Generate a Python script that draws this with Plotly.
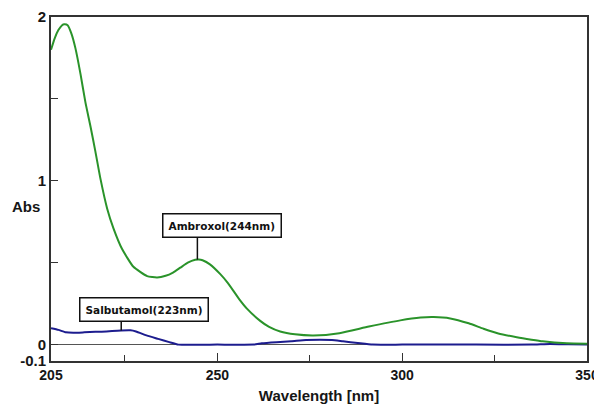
import numpy as np
import plotly.graph_objects as go

# Ambroxol (green) spectrum
amb_wl = [205, 206, 207, 208, 208.6, 209.5, 210.5, 211.6, 213, 214.3, 215.7, 217, 218.4,
          220.2, 221.9, 224.2, 227.3, 231, 233.7, 236, 238, 240, 242, 244, 245, 246, 248,
          250.8, 252.7, 254.3, 256, 258, 261.6, 264, 267, 271, 276, 283, 291, 299.5, 305,
          308.5, 313, 318, 322, 326, 331, 335, 338, 344.5, 350]
amb_abs = [1.80, 1.87, 1.92, 1.95, 1.955, 1.95, 1.90, 1.81, 1.65, 1.48, 1.33, 1.18, 1.01,
           0.83, 0.71, 0.585, 0.475, 0.418, 0.41, 0.42, 0.44, 0.47, 0.50, 0.518, 0.52, 0.515, 0.49,
           0.43, 0.38, 0.33, 0.275, 0.22, 0.145, 0.108, 0.08, 0.063, 0.056, 0.07, 0.11, 0.148, 0.165,
           0.168, 0.16, 0.13, 0.097, 0.068, 0.045, 0.03, 0.02, 0.008, 0.005]

# Salbutamol (blue) spectrum
sal_wl = [205, 207, 209, 211, 214, 217, 220, 223, 226.5, 228, 231, 234, 237, 239.5, 250,
          260, 262, 266, 270, 274, 281, 284, 288, 292, 300, 320, 335, 340, 345, 350]
sal_abs = [0.10, 0.09, 0.075, 0.072, 0.075, 0.078, 0.08, 0.085, 0.087, 0.08, 0.055, 0.035,
           0.015, 0.0, 0.0, 0.0, 0.008, 0.015, 0.02, 0.028, 0.028, 0.02, 0.01, 0.0, 0.0,
           0.0, 0.0, 0.004, 0.002, 0.0]

x_tickvals = [205, 250, 300, 350]
x_minor = [225, 275, 325]
y_tickvals = [-0.1, 0, 1, 2]
y_ticktext = ["-0.1", "0", "1", "2"]
y_minor = [0.5, 1.5]

annot_wl = [244.6, 224]
annot_text = ["Ambroxol(244nm)", "Salbutamol(223nm)"]

GREEN = "#2a932a"
BLUE = "#1c1c8e"
AXC = "#333333"
TXT = "#161616"

fig = go.Figure()
fig.add_trace(go.Scatter(x=sal_wl, y=sal_abs, mode="lines",
                         line=dict(color=BLUE, width=2, shape="spline", smoothing=0.4),
                         hoverinfo="skip"))
fig.add_trace(go.Scatter(x=amb_wl, y=amb_abs, mode="lines",
                         line=dict(color=GREEN, width=2, shape="spline", smoothing=0.5),
                         hoverinfo="skip"))

series = [(amb_wl, amb_abs), (sal_wl, sal_abs)]
# pixel offsets of boxes relative to their points
xshifts = [-35, -42]
stems = [22, 9]
for (wl, (sx, sy), txt, xs, st) in zip(annot_wl, series, annot_text, xshifts, stems):
    yv = float(np.interp(wl, sx, sy))
    fig.add_shape(type="line", xref="x", yref="y", ysizemode="pixel", yanchor=yv,
                  x0=wl, x1=wl, y0=0, y1=st, line=dict(color="#111", width=1.5))
    fig.add_annotation(x=wl, y=yv, xref="x", yref="y", text=txt, showarrow=False,
                       xanchor="left", yanchor="bottom", xshift=xs, yshift=st,
                       font=dict(family="DejaVu Sans", size=10.5, color="#111", weight="bold"),
                       bgcolor="white", bordercolor="#111", borderwidth=1.5, borderpad=5)

fig.add_annotation(x=0, y=0.4477, xref="paper", yref="paper", text="Abs", showarrow=False,
                   xanchor="right", yanchor="middle", xshift=-9,
                   font=dict(family="Liberation Sans", size=15, color=TXT, weight="bold"))

fig.update_xaxes(range=[205, 350], tickvals=x_tickvals, ticks="inside", ticklen=8,
                 tickcolor=AXC, tickwidth=1, automargin=False,
                 minor=dict(tickvals=x_minor, ticks="inside", ticklen=6, tickcolor=AXC),
                 showline=True, linecolor=AXC, linewidth=2, mirror=True, showgrid=False,
                 zeroline=False,
                 tickfont=dict(family="Liberation Sans", size=14, color=TXT, weight="bold"),
                 title=dict(text="Wavelength [nm]", standoff=9,
                            font=dict(family="Liberation Sans", size=15, color=TXT, weight="bold")))
fig.update_yaxes(range=[-0.1, 2], tickvals=y_tickvals, ticktext=y_ticktext, ticks="inside",
                 ticklen=7, tickcolor=AXC, automargin=False,
                 minor=dict(tickvals=y_minor, ticks="inside", ticklen=7, tickcolor=AXC),
                 showline=True, linecolor=AXC, linewidth=2, mirror=True, showgrid=False,
                 zeroline=True, zerolinecolor="#555555", zerolinewidth=1,
                 tickfont=dict(family="Liberation Sans", size=15, color=TXT, weight="bold"))

# page body has an 8px default margin, so the figure is sized/offset to compensate
fig.update_layout(width=594, height=399, margin=dict(l=43, r=15, t=9, b=46),
                  paper_bgcolor="white", plot_bgcolor="white", showlegend=False)

fig.write_html("out.html")
